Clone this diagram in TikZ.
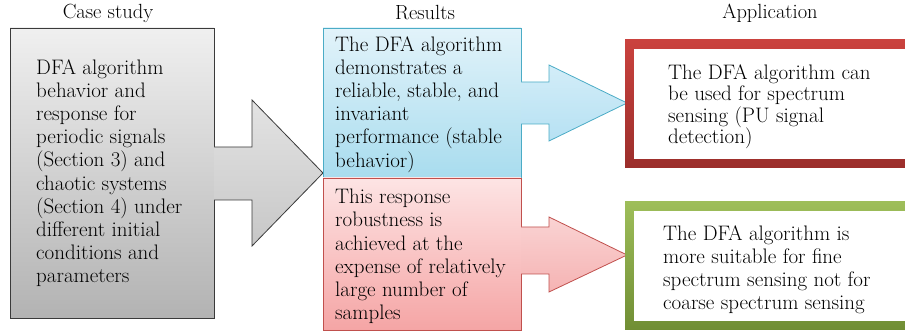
\documentclass[tikz,border=0pt]{standalone}
\usepackage{tikz}
\begin{document}
\begin{tikzpicture}[x=1pt,y=1pt,
  lbl/.style={inner sep=0pt,font=\fontsize{20.5}{23}\selectfont},
  body/.style={anchor=north west,inner sep=0pt,align=left,font=\fontsize{21}{23.2}\selectfont},
  appbody/.style={anchor=north west,inner sep=0pt,align=left,font=\fontsize{21}{21.5}\selectfont},
  edge/.style={line width=0.8pt},
]
\definecolor{grayedge}{HTML}{3A3A3A}
\definecolor{blueedge}{HTML}{4BACC6}
\definecolor{pinkedge}{HTML}{C0504D}
\definecolor{bluetop}{HTML}{E2F3FA}
\definecolor{bluebot}{HTML}{A8DCEE}
\definecolor{bluearrtop}{HTML}{D3EDF8}
\definecolor{bluearrbot}{HTML}{B6E1F3}
\definecolor{pinktop}{HTML}{FDE4E4}
\definecolor{pinkbot}{HTML}{F5A5A5}
\definecolor{pinkarrtop}{HTML}{FAD3D3}
\definecolor{pinkarrbot}{HTML}{F5B3B3}
\definecolor{redtop}{RGB}{202,66,62}
\definecolor{redbot}{RGB}{155,46,43}
\definecolor{greentop}{RGB}{158,190,90}
\definecolor{greenbot}{RGB}{112,142,52}
\useasboundingbox (0,0) rectangle (905,334);
\begin{scope}
\clip (0,0) rectangle (905,334);
% labels
\node[lbl] (l1) at (108,321) {Case study};
\node[lbl] (l2) at (425,321) {Results};
\node[lbl] (l3) at (770,321) {Application};
% gray box
\path[edge,draw=grayedge,top color=black!6,bottom color=black!30] (10,16) rectangle (214,306);
\path[edge,draw=grayedge,top color=black!11,bottom color=black!22]
  (214,187) -- (252,187) -- (252,234) -- (323,161) -- (252,88) -- (252,134) -- (214,134);
% blue box
\path[edge,draw=blueedge,top color=bluetop,bottom color=bluebot] (323,156) rectangle (521,306);
\path[edge,draw=blueedge,top color=bluearrtop,bottom color=bluearrbot]
  (521,252) -- (549,252) -- (549,269) -- (627,231) -- (549,193) -- (549,210) -- (521,210);
% pink box
\path[edge,draw=pinkedge,top color=pinktop,bottom color=pinkbot] (323,4) rectangle (521,156);
\path[edge,draw=pinkedge,top color=pinkarrtop,bottom color=pinkarrbot]
  (521,107) -- (549,107) -- (549,117) -- (627,79) -- (549,42) -- (549,60) -- (521,60);
% red frame
\shade[top color=redtop,bottom color=redbot] (625,166) rectangle (940,294);
\fill[white] (634,175) rectangle (931,285);
% green frame
\shade[top color=greentop,bottom color=greenbot] (625,4) rectangle (940,132);
\fill[white] (634,13) rectangle (931,123);
\end{scope}
% texts
\node[body] (t1) at (36,275) {DFA algorithm\\behavior and\\response for\\periodic signals\\(Section 3) and\\chaotic systems\\(Section 4) under\\different initial\\conditions and\\parameters};
\node[body] (t2) at (335,298) {The DFA algorithm\\demonstrates a\\reliable, stable, and\\invariant\\performance (stable\\behavior)};
\node[body] (t3) at (335,145) {This response\\robustness is\\achieved at the\\expense of relatively\\large number of\\samples};
\node[appbody] (t4) at (668,270) {The DFA algorithm can\\be used for spectrum\\sensing (PU signal\\detection)};
\node[appbody,font=\fontsize{21}{23}\selectfont] (t5) at (663,109) {The DFA algorithm is\\more suitable for fine\\spectrum sensing not for\\coarse spectrum sensing};
\end{tikzpicture}
\end{document}
